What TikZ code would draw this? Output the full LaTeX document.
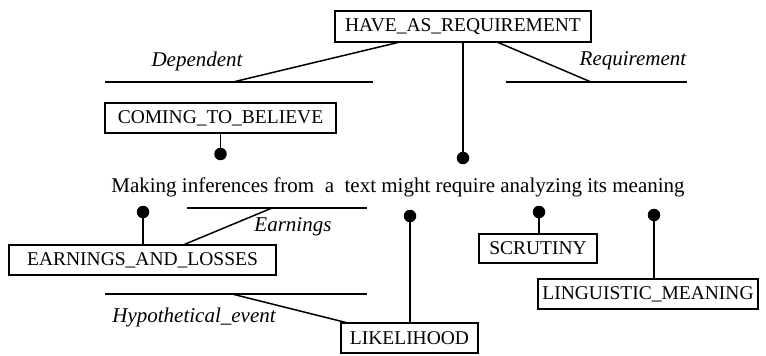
\documentclass[tikz,border=0pt]{standalone}
\usepackage{fontspec}
\setmainfont{Liberation Serif}
\begin{document}
\begin{tikzpicture}[x=1pt,y=-1pt,
  font=\fontsize{21}{24}\selectfont,
  box/.style={draw, line width=1.4pt, inner sep=0pt, minimum height=30pt, font=\fontsize{19.5}{22}\selectfont},
  conn/.style={line width=1.5pt},
  dot/.style={circle, fill=black, inner sep=0pt, minimum size=12.5pt},
  role/.style={font=\fontsize{21}{24}\selectfont\itshape, inner sep=0pt}]
\useasboundingbox (0,0) rectangle (766,356);
% boxes
\node[box, minimum width=256pt, minimum height=31pt] (har) at (463,26.5) {HAVE\_AS\_REQUIREMENT};
\node[box, minimum width=231pt] (ctb) at (220.5,118) {COMING\_TO\_BELIEVE};
\node[box, minimum width=267pt] (eal) at (142.5,260) {EARNINGS\_AND\_LOSSES};
\node[box, minimum width=137pt] (lik) at (409.5,338) {LIKELIHOOD};
\node[box, minimum width=118pt, minimum height=29pt] (scr) at (538,248.5) {SCRUTINY};
\node[box, minimum width=220pt] (lm) at (648,294) {LINGUISTIC\_MEANING};
% sentence
\node[inner sep=0pt] (sent) at (398,187) {Making inferences from~ a~ text might require analyzing its meaning};
% dots
\node[dot] (d1) at (220.5,154) {};
\node[dot] (d2) at (463,158) {};
\node[dot] (d3) at (143,212) {};
\node[dot] (d4) at (410,216) {};
\node[dot] (d5) at (539,212) {};
\node[dot] (d6) at (654,215) {};
\draw[conn] (ctb.south) -- (d1.center);
\draw[conn] (har.south) -- (d2.center);
\draw[conn] (d3.center) -- (d3 |- eal.north);
\draw[conn] (d4.center) -- (d4 |- lik.north);
\draw[conn] (d5.center) -- (d5 |- scr.north);
\draw[conn] (d6.center) -- (d6 |- lm.north);
% role: Dependent
\coordinate (depL) at (105,82);
\coordinate (depR) at (373,82);
\coordinate (depM) at (233,82);
\coordinate (depT) at (400,42);
\draw[conn] (depL) -- (depR);
\draw[conn] (depM) -- (depT);
\node[role] (depLab) at (197,61) {Dependent};
% role: Requirement
\coordinate (reqL) at (506,82);
\coordinate (reqR) at (687,82);
\coordinate (reqM) at (591,82);
\coordinate (reqT) at (497,42);
\draw[conn] (reqL) -- (reqR);
\draw[conn] (reqM) -- (reqT);
\node[role] (reqLab) at (633,61) {Requirement};
% role: Earnings
\coordinate (earL) at (187,208);
\coordinate (earR) at (367,208);
\coordinate (earM) at (272,208);
\coordinate (earT) at (183,245);
\draw[conn] (earL) -- (earR);
\draw[conn] (earM) -- (earT);
\node[role] (earLab) at (293,227) {Earnings};
% role: Hypothetical_event
\coordinate (hypL) at (105,294);
\coordinate (hypR) at (367,294);
\coordinate (hypM) at (232,294);
\coordinate (hypT) at (348,323);
\draw[conn] (hypL) -- (hypR);
\draw[conn] (hypM) -- (hypT);
\node[role] (hypLab) at (194,317) {Hypothetical\_event};
\end{tikzpicture}
\end{document}
